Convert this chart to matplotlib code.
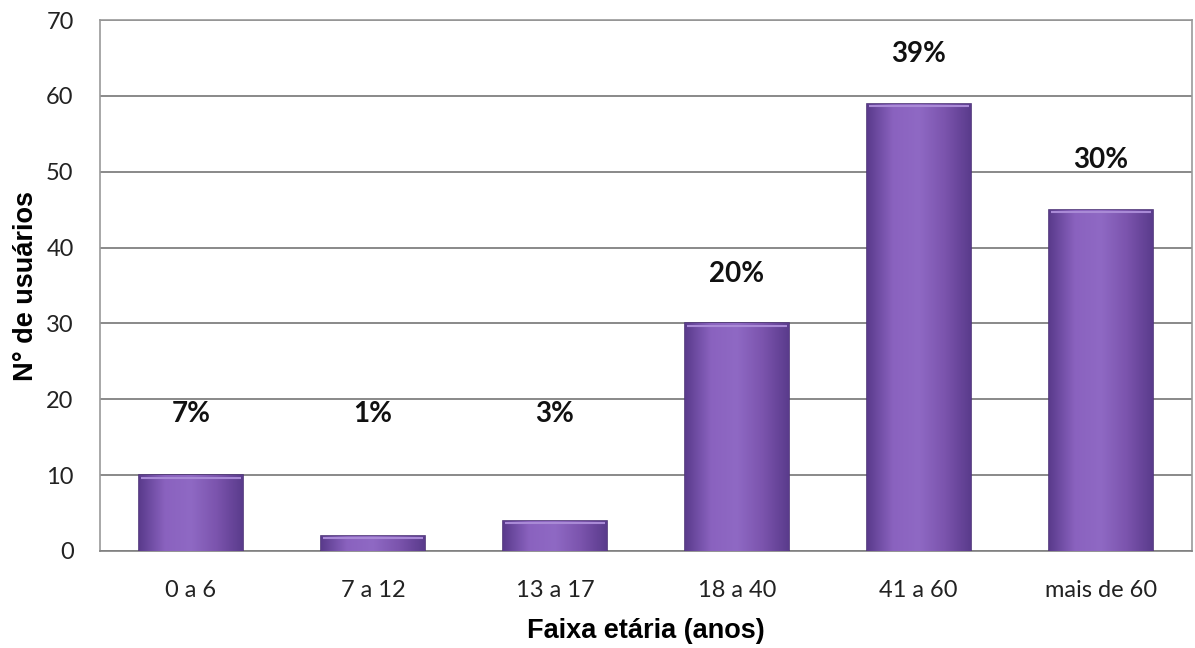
import numpy as np
import matplotlib.pyplot as plt
from matplotlib.colors import LinearSegmentedColormap

###=========== data ===========
faixas = ['0 a 6', '7 a 12', '13 a 17', '18 a 40', '41 a 60', 'mais de 60']
usuarios = [10, 2, 4, 30, 59, 45]
percentuais = ['7%', '1%', '3%', '20%', '39%', '30%']

###=========== figure ===========
fig = plt.figure(figsize=(11.95, 6.48), dpi=100)
ax = fig.add_axes([0.0837, 0.1497, 0.9135, 0.8193])

x = np.arange(len(faixas))
largura = 0.57
bars = ax.bar(x, usuarios, width=largura, color='#7c55ae', edgecolor='#4e3478',
              linewidth=1.2, zorder=3)

# horizontal gradient inside each bar (darker at the sides)
cmap = LinearSegmentedColormap.from_list('roxo', ['#5a3b8c', '#8a62bf', '#8f69c4', '#7b54ad', '#5a3b8c'])
grad = np.linspace(0, 1, 256).reshape(1, -1)
for b in bars:
    x0, w, h = b.get_x(), b.get_width(), b.get_height()
    im = ax.imshow(grad, cmap=cmap, aspect='auto', extent=[x0, x0 + w, 0, h],
                   zorder=3.5, interpolation='bicubic')
    im.set_clip_path(b)
    # light top bevel
    ax.plot([x0 + 0.01, x0 + w - 0.01], [h - 0.35, h - 0.35], color='#a98ad6',
            linewidth=1.5, zorder=4, solid_capstyle='butt')

for xi, v, p in zip(x, usuarios, percentuais):
    ax.text(xi, max(v + 6.5, 18), p, ha='center', va='center', fontsize=20,
            fontweight='bold', family='Lato', color='#111111', zorder=5)

ax.set_xlim(-0.5, len(faixas) - 0.5)
ax.set_ylim(0, 70)
ax.set_yticks(np.arange(0, 71, 10))
ax.set_xticks(x)
ax.set_xticklabels(faixas)
ax.tick_params(length=0, labelsize=17, colors='#222222')
for lab in ax.get_xticklabels() + ax.get_yticklabels():
    lab.set_family('Lato')
ax.tick_params(axis='y', pad=19)
ax.tick_params(axis='x', pad=21)

ax.grid(axis='y', color='#808080', linewidth=1.3, zorder=0)
for s in ax.spines.values():
    s.set_color('#999999')
    s.set_linewidth(1.2)
ax.spines['bottom'].set_color('#808080')

ax.set_xlabel('Faixa etária (anos)', fontsize=19.5, fontweight='bold',
              family='Liberation Sans', labelpad=12)
ax.set_ylabel('N° de usuários', fontsize=19.5, fontweight='bold',
              family='Liberation Sans', labelpad=5)

plt.savefig('out.png', dpi=100)
